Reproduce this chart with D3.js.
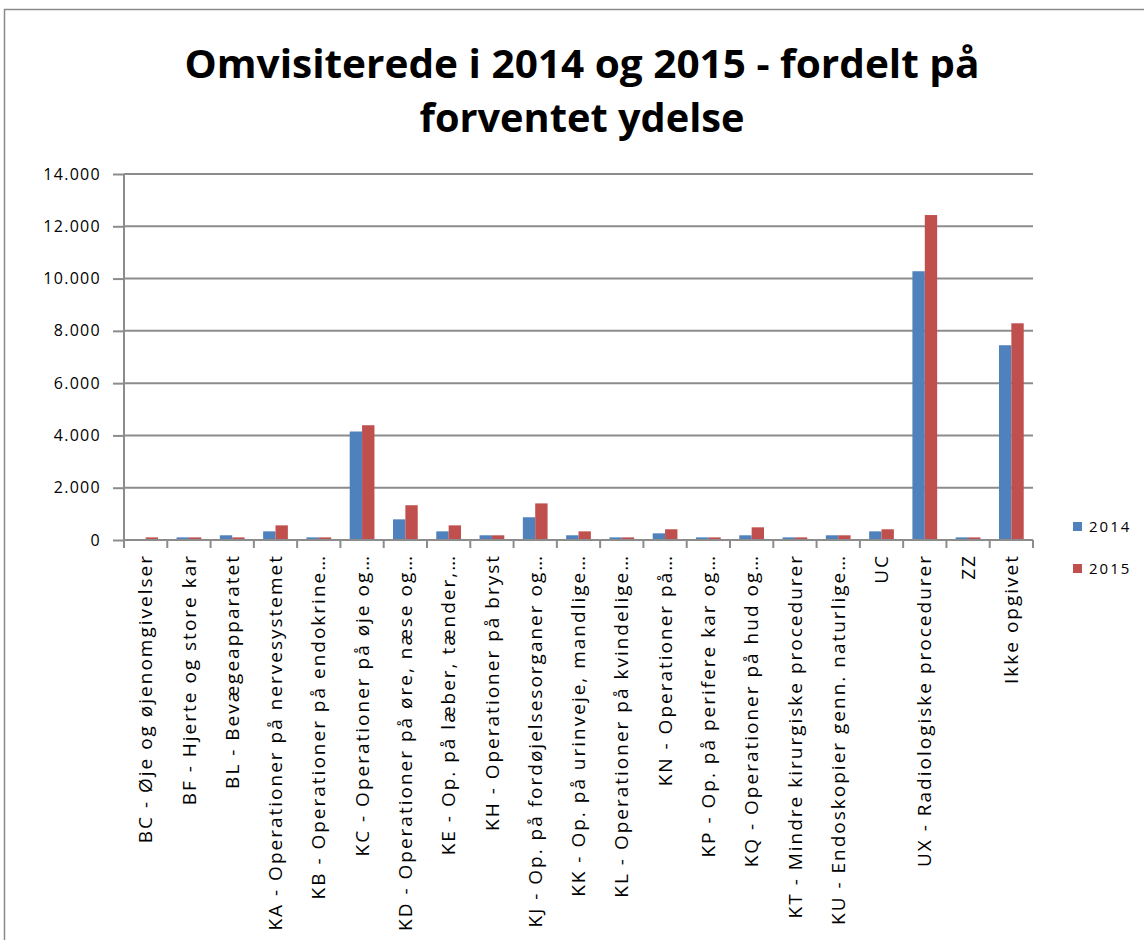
<!DOCTYPE html>
<html>
<head>
<meta charset="utf-8">
<script src="https://cdn.jsdelivr.net/npm/d3@7"></script>
<style>
  body { margin: 0; background: #fff; }
  text { font-family: "Open Sans", "DejaVu Sans", sans-serif; }
</style>
</head>
<body>
<div id="chart"></div>
<script>
// categories as shown on the axis (Excel truncates long ones)
let categories = [
  "BC - Øje og øjenomgivelser",
  "BF - Hjerte og store kar",
  "BL - Bevægeapparatet",
  "KA - Operationer på nervesystemet",
  "KB - Operationer på endokrine…",
  "KC - Operationer på øje og…",
  "KD - Operationer på øre, næse og…",
  "KE - Op. på læber, tænder,…",
  "KH - Operationer på bryst",
  "KJ - Op. på fordøjelsesorganer og…",
  "KK - Op. på urinveje, mandlige…",
  "KL - Operationer på kvindelige…",
  "KN - Operationer på…",
  "KP - Op. på perifere kar og…",
  "KQ - Operationer på hud og…",
  "KT - Mindre kirurgiske procedurer",
  "KU - Endoskopier genn. naturlige…",
  "UC",
  "UX - Radiologiske procedurer",
  "ZZ",
  "Ikke opgivet"
]

let values2014 = [20, 100, 180, 330, 100, 4150, 790, 330, 180, 870, 180, 100, 255, 100, 180, 100, 180, 330, 10280, 100, 7450]
let values2015 = [100, 100, 100, 560, 100, 4390, 1330, 560, 180, 1400, 330, 100, 410, 100, 485, 100, 180, 410, 12430, 100, 8290]

let seriesNames = ["2014", "2015"]
let yTicks = [0, 2000, 4000, 6000, 8000, 10000, 12000, 14000]
let titleLines = ["Omvisiterede i 2014 og 2015 - fordelt på", "forventet ydelse"]

let width = 1144
let height = 940
let plot = { left: 124, right: 1033, top: 174, bottom: 540 }

let colors = d3.scaleOrdinal()
    .domain(seriesNames)
    .range(["#4F81BD", "#C0504D"])

let svg = d3.select("#chart")
    .append("svg")
    .attr("width", width)
    .attr("height", height)

// chart frame
svg.append("rect")
    .attr("x", 4.5)
    .attr("y", 9.5)
    .attr("width", 1300)
    .attr("height", 1200)
    .attr("fill", "#fff")
    .attr("stroke", "#8a8a8a")
    .attr("stroke-width", 1.5)

// title
svg.selectAll(".title")
    .data(titleLines)
    .enter()
    .append("text")
    .attr("class", "title")
    .attr("x", 582)
    .attr("y", (d, i) => 78 + i * 54)
    .attr("text-anchor", "middle")
    .attr("textLength", (d, i) => i == 0 ? 795 : 325)
    .attr("lengthAdjust", "spacingAndGlyphs")
    .style("font-size", "40px")
    .style("font-weight", "bold")
    .style("fill", "#000")
    .text(d => d)

let x = d3.scaleBand()
    .domain(categories)
    .range([plot.left, plot.right])

let xInner = d3.scaleBand()
    .domain(seriesNames)
    .range([0, x.bandwidth()])
    .paddingOuter(0.75)

let y = d3.scaleLinear()
    .domain([0, 14000])
    .range([plot.bottom, plot.top])

let fmt = d3.formatLocale({ decimal: ",", thousands: ".", grouping: [3], currency: ["", ""] }).format(",")

// gridlines
svg.append("g")
    .selectAll("line")
    .data(yTicks)
    .enter()
    .append("line")
    .attr("x1", plot.left)
    .attr("x2", plot.right)
    .attr("y1", d => y(d))
    .attr("y2", d => y(d))
    .attr("stroke", "#8c8c8c")
    .attr("stroke-width", 2)

// y axis
let yAxis = d3.axisLeft(y)
    .tickValues(yTicks)
    .tickFormat(fmt)
    .tickSize(11)
    .tickPadding(12)

let gy = svg.append("g")
    .attr("transform", "translate(" + plot.left + ",0)")
    .call(yAxis)
gy.select(".domain").attr("stroke", "#8c8c8c").attr("stroke-width", 2)
    .attr("d", "M0," + plot.top + "V" + (plot.bottom + 8))
gy.selectAll(".tick line").attr("stroke", "#8c8c8c").attr("stroke-width", 2)
gy.selectAll(".tick text")
    .style("font-size", "16px")
    .style("letter-spacing", "1.3px")
    .style("fill", "#000")

// bars
let data = categories.map((c, i) => ({ cat: c, vals: [values2014[i], values2015[i]] }))

let groups = svg.append("g")
    .selectAll("g")
    .data(data)
    .enter()
    .append("g")
    .attr("transform", d => "translate(" + x(d.cat) + ",0)")

groups.selectAll("rect")
    .data(d => d.vals.map((v, j) => ({ key: seriesNames[j], v: v })))
    .enter()
    .append("rect")
    .attr("x", d => xInner(d.key))
    .attr("width", xInner.bandwidth())
    .attr("y", d => y(d.v))
    .attr("height", d => y(0) - y(d.v))
    .attr("fill", d => colors(d.key))

// x axis baseline and category ticks
svg.append("line")
    .attr("x1", plot.left)
    .attr("x2", plot.right)
    .attr("y1", plot.bottom)
    .attr("y2", plot.bottom)
    .attr("stroke", "#8c8c8c")
    .attr("stroke-width", 2)

let boundaries = categories.map(c => x(c)).concat([plot.right])
svg.append("g")
    .selectAll("line")
    .data(boundaries)
    .enter()
    .append("line")
    .attr("x1", d => d)
    .attr("x2", d => d)
    .attr("y1", plot.bottom)
    .attr("y2", plot.bottom + 8)
    .attr("stroke", "#8c8c8c")
    .attr("stroke-width", 2)

// rotated category labels
svg.append("g")
    .selectAll("text")
    .data(categories)
    .enter()
    .append("text")
    .attr("transform", d => "translate(" + (x(d) + x.bandwidth() / 2) + "," + (plot.bottom + 14) + ") rotate(-90)")
    .attr("text-anchor", "end")
    .attr("dy", "0.35em")
    .style("font-size", "19px")
    .style("letter-spacing", "2px")
    .style("fill", "#000")
    .text(d => d)

// legend
let legend = svg.append("g")
    .selectAll("g")
    .data(seriesNames)
    .enter()
    .append("g")
    .attr("transform", (d, i) => "translate(1073," + (527 + i * 42) + ")")

legend.append("rect")
    .attr("x", 0)
    .attr("y", -5)
    .attr("width", 9)
    .attr("height", 9)
    .attr("fill", d => colors(d))

legend.append("text")
    .attr("x", 16)
    .attr("dy", "0.35em")
    .style("font-size", "15px")
    .style("letter-spacing", "2px")
    .style("fill", "#000")
    .text(d => d)
</script>
</body>
</html>
